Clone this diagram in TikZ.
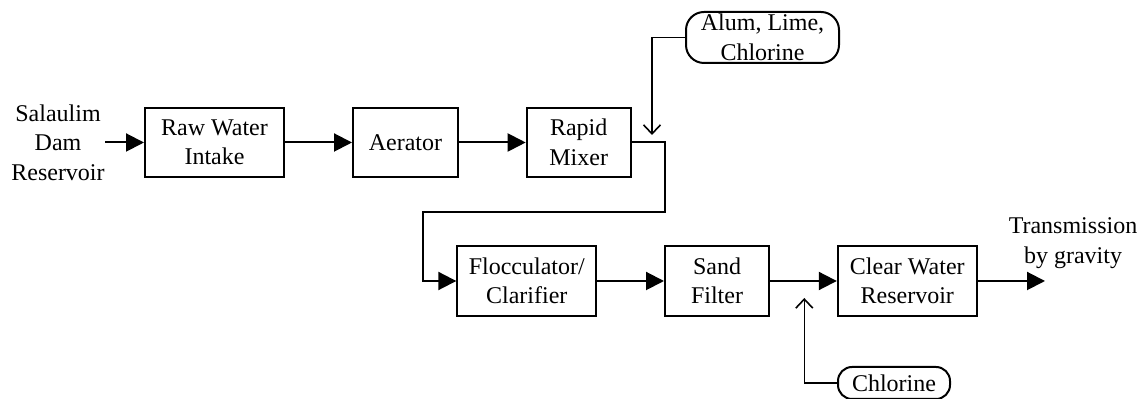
\documentclass[tikz,border=0pt]{standalone}
\usepackage{fontspec}
\setmainfont{Liberation Serif}
\usetikzlibrary{arrows.meta}
\begin{document}
\begin{tikzpicture}
		[	x=0.5pt,y=-0.5pt,
		box/.style={rectangle,draw=black,line width=1pt,align=center,minimum width=69.5pt,minimum height=34.5pt,inner sep=1pt,font=\fontsize{12}{14.75}\selectfont},
		chem/.style={rectangle,rounded corners=7pt,draw=black,line width=1pt,align=center,inner sep=1pt,font=\fontsize{12}{14.75}\selectfont},
		plain/.style={draw=none,fill=none,align=center,inner sep=0pt,font=\fontsize{12}{14.75}\selectfont},
		flow/.style={-{Triangle[length=9pt,width=9pt]},line width=1pt},
		feed/.style={-{Straight Barb[length=4.5pt,width=8.5pt]},line width=0.8pt}
		]
		\useasboundingbox (0,0) rectangle (1146,399);
		\node[plain] (source) at (58,142.5){Salaulim\\Dam\\Reservoir};
		\node[box] (intake) at (214.5,142.5){Raw Water\\Intake};
		\node[box,minimum width=52.5pt] (aerator) at (405.5,142.5){Aerator};
		\node[box,minimum width=52pt] (mixer) at (578.7,142.5){Rapid\\Mixer};
		\node[chem,rounded corners=9pt,minimum width=76.5pt,minimum height=25.5pt] (alum) at (762.5,37.5){Alum, Lime,\\Chlorine};
		\node[box,minimum height=35pt] (floc) at (526.8,281){Flocculator/\\Clarifier};
		\node[box,minimum width=52pt,minimum height=35pt] (filter) at (717,281){Sand\\Filter};
		\node[box,minimum height=35pt] (clear) at (907.3,281){Clear Water\\Reservoir};
		\node[chem,minimum width=56pt,minimum height=16pt] (chlor) at (894,383){Chlorine};
		\node[plain] (trans) at (1073,243){Transmission\\by gravity};
\coordinate (mixtip) at (652,135);
\coordinate (filtip) at (804.3,298);
\coordinate (bendA) at (665,212);
\coordinate (bendB) at (423,212);
\coordinate (outend) at (1045,281);
		\draw[flow] (source.east |- intake.west) -- (intake.west);
		\draw[flow] (intake) -- (aerator);
		\draw[flow] (aerator) -- (mixer);
		\draw[flow] (mixer.east) -| (bendA) -- (bendB) |- (floc.west);
		\draw[flow] (floc) -- (filter);
		\draw[flow] (filter) -- (clear);
		\draw[flow] (clear.east) -- (outend);
		\draw[feed] (alum.west) -| (mixtip);
		\draw[feed] (chlor.west) -| (filtip);
\end{tikzpicture}
\end{document}
